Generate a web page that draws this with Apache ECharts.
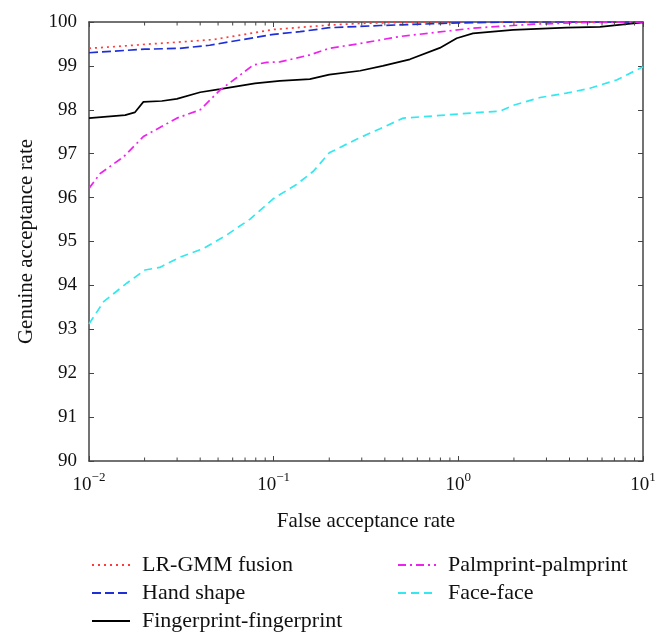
<!DOCTYPE html>
<html>
<head>
<meta charset="utf-8">
<script src="https://cdn.jsdelivr.net/npm/echarts@6/dist/echarts.min.js"></script>
<style>html,body{margin:0;padding:0;background:#fff}#c{width:670px;height:642px}</style>
</head>
<body>
<div id="c"></div>
<script>
// ---- data ----
const seriesNames = ['LR-GMM fusion', 'Hand shape', 'Fingerprint-fingerprint', 'Palmprint-palmprint', 'Face-face'];

const lrX = [0.01, 0.015, 0.02, 0.03, 0.047, 0.07, 0.1, 0.2, 0.3, 0.5, 1, 2, 5, 10];
const lrY = [99.40, 99.45, 99.49, 99.54, 99.60, 99.72, 99.83, 99.93, 99.97, 99.99, 100, 100, 100, 100];

const handX = [0.01, 0.02, 0.031, 0.045, 0.058, 0.08, 0.1, 0.139, 0.2, 0.377, 1, 2, 10];
const handY = [99.30, 99.38, 99.40, 99.47, 99.55, 99.65, 99.72, 99.78, 99.87, 99.92, 99.98, 100, 100];

const fingerX = [0.01, 0.0157, 0.0177, 0.0197, 0.0248, 0.0299, 0.04, 0.0512, 0.0792, 0.108, 0.157, 0.2, 0.294, 0.39, 0.547, 0.794, 0.98, 1.2, 1.98, 3.85, 5.85, 10];
const fingerY = [97.81, 97.88, 97.94, 98.18, 98.20, 98.25, 98.40, 98.47, 98.60, 98.66, 98.70, 98.80, 98.89, 99.00, 99.15, 99.41, 99.63, 99.74, 99.82, 99.87, 99.89, 99.99];

const palmX = [0.01, 0.0115, 0.0154, 0.0197, 0.0299, 0.04, 0.0512, 0.063, 0.0776, 0.0917, 0.108, 0.157, 0.2, 0.294, 0.483, 0.9, 1.2, 2.55, 5, 10];
const palmY = [96.21, 96.55, 96.93, 97.39, 97.81, 98.00, 98.45, 98.73, 99.02, 99.08, 99.09, 99.25, 99.40, 99.51, 99.67, 99.80, 99.86, 99.95, 99.99, 100];

const faceX = [0.01, 0.012, 0.016, 0.0201, 0.0242, 0.031, 0.0416, 0.0557, 0.0745, 0.1, 0.133, 0.164, 0.2, 0.281, 0.377, 0.503, 0.73, 1.2, 1.68, 1.98, 2.77, 3.85, 5.16, 7.2, 10];
const faceY = [93.12, 93.63, 94.05, 94.35, 94.41, 94.64, 94.84, 95.15, 95.51, 95.98, 96.30, 96.60, 97.02, 97.33, 97.57, 97.81, 97.86, 97.93, 97.97, 98.10, 98.28, 98.38, 98.49, 98.68, 98.98];

const minorTickValues = [0.02,0.03,0.04,0.05,0.06,0.07,0.08,0.09,0.2,0.3,0.4,0.5,0.6,0.7,0.8,0.9,2,3,4,5,6,7,8,9];
const yMin = 90, yMax = 100;
const xMin = 0.01, xMax = 10;

// ---- chart ----
const FONT = 'Liberation Serif';
const pair = (xs, ys) => xs.map((x, i) => [x, ys[i]]);
const axisColor = '#444';

const chart = echarts.init(document.getElementById('c'), null, {renderer: 'canvas'});

function lineSeries(name, xs, ys, color, type) {
  return {
    name: name, type: 'line', xAxisIndex: 0, yAxisIndex: 0,
    data: pair(xs, ys), showSymbol: false, symbol: 'none', smooth: false,
    lineStyle: {color: color, width: 1.7, type: type},
    itemStyle: {color: color},
    silent: true, animation: false, z: 3
  };
}

const legendCommon = {
  orient: 'vertical', top: 549, itemWidth: 38, itemHeight: 22, itemGap: 6,
  itemStyle: {opacity: 0},
  textStyle: {fontFamily: FONT, fontSize: 22, lineHeight: 22, color: '#111', padding: [0, 0, 0, 7]},
  selectedMode: false
};

const option = {
  backgroundColor: '#fff',
  animation: false,
  textStyle: {fontFamily: FONT},
  grid: {left: 89, right: 27, top: 22, bottom: 181, containLabel: false},
  xAxis: [
    {
      type: 'log', logBase: 10, min: xMin, max: xMax, position: 'bottom',
      axisLine: {show: true, lineStyle: {color: axisColor, width: 1.5}},
      axisTick: {show: true, inside: true, length: 5, lineStyle: {color: axisColor}},
      splitLine: {show: false},
      axisLabel: {
        margin: 10, color: '#111',
        formatter: v => '{b|10}{s|' + String(Math.round(Math.log10(v))).replace('-', '\u2212') + '}',
        rich: {
          b: {fontFamily: FONT, fontSize: 19, color: '#111', lineHeight: 24, verticalAlign: 'bottom'},
          s: {fontFamily: FONT, fontSize: 13, color: '#111', lineHeight: 24, verticalAlign: 'top', padding: [0, 0, 10, 0]}
        }
      },
      name: 'False acceptance rate', nameLocation: 'middle', nameGap: 50,
      nameTextStyle: {fontFamily: FONT, fontSize: 21, color: '#111'}
    },
    {
      type: 'log', logBase: 10, min: xMin, max: xMax, position: 'top',
      axisLine: {show: true, lineStyle: {color: axisColor, width: 1.5}},
      axisTick: {show: true, inside: true, length: 5, lineStyle: {color: axisColor}},
      axisLabel: {show: false}, splitLine: {show: false}
    }
  ],
  yAxis: [
    {
      type: 'value', min: yMin, max: yMax, interval: 1, position: 'left',
      axisLine: {show: true, lineStyle: {color: axisColor, width: 1.5}},
      axisTick: {show: true, inside: true, length: 5, lineStyle: {color: axisColor}},
      splitLine: {show: false},
      axisLabel: {margin: 12, fontFamily: FONT, fontSize: 19, color: '#111'},
      name: 'Genuine acceptance rate', nameLocation: 'middle', nameGap: 52, nameRotate: 90,
      nameTextStyle: {fontFamily: FONT, fontSize: 21, color: '#111'}
    },
    {
      type: 'value', min: yMin, max: yMax, interval: 1, position: 'right',
      axisLine: {show: true, lineStyle: {color: axisColor, width: 1.5}},
      axisTick: {show: true, inside: true, length: 5, lineStyle: {color: axisColor}},
      splitLine: {show: false}, axisLabel: {show: false}
    }
  ],
  legend: [
    Object.assign({left: 86, data: seriesNames.slice(0, 3)}, legendCommon),
    Object.assign({left: 392, data: seriesNames.slice(3)}, legendCommon)
  ],
  series: [
    lineSeries(seriesNames[0], lrX, lrY, '#ff3b3b', [2, 4]),
    lineSeries(seriesNames[1], handX, handY, '#1f2fd6', [9, 4]),
    lineSeries(seriesNames[2], fingerX, fingerY, '#000000', 'solid'),
    lineSeries(seriesNames[3], palmX, palmY, '#ee22ee', [8, 4, 2, 4]),
    lineSeries(seriesNames[4], faceX, faceY, '#33e8ee', [8, 5]),
    {
      type: 'custom', xAxisIndex: 0, yAxisIndex: 0, silent: true, z: 4,
      data: minorTickValues.map(v => [v, yMin]),
      renderItem: function (params, api) {
        const x = api.value(0);
        const pb = api.coord([x, yMin]);
        const pt = api.coord([x, yMax]);
        return {
          type: 'group',
          children: [
            {type: 'line', shape: {x1: pb[0], y1: pb[1], x2: pb[0], y2: pb[1] - 3.5}, style: {stroke: axisColor, lineWidth: 1}},
            {type: 'line', shape: {x1: pt[0], y1: pt[1], x2: pt[0], y2: pt[1] + 3.5}, style: {stroke: axisColor, lineWidth: 1}}
          ]
        };
      }
    }
  ]
};
chart.setOption(option);
</script>
</body>
</html>
